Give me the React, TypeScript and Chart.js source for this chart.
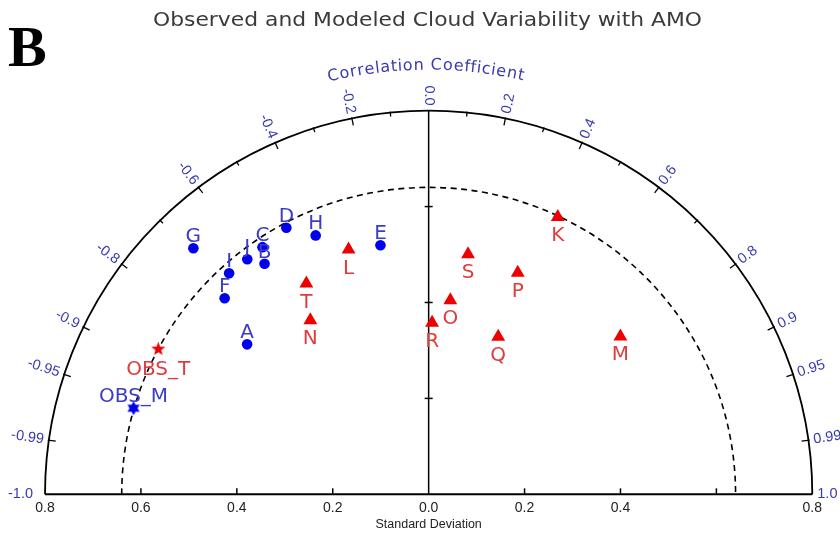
import React, { useEffect, useRef } from "react";
import { Chart, registerables } from "chart.js";

Chart.register(...registerables);

// ---------- data ----------
const TITLE = "Observed and Modeled Cloud Variability with AMO";
const PANEL = "B";
const STD_AXIS_TITLE = "Standard Deviation";
const CORR_AXIS_TITLE = "Correlation Coefficient";

// blue circles (models A–J)
const circleNames = ["A", "B", "C", "D", "E", "F", "G", "H", "I", "J"];
const circleStd = [0.491, 0.59, 0.621, 0.63, 0.529, 0.59, 0.71, 0.589, 0.621, 0.619];
const circleCorr = [-0.771, -0.58, -0.558, -0.471, -0.19, -0.721, -0.691, -0.4, -0.67, -0.611];

// red triangles (models K–T)
const triNames = ["K", "L", "M", "N", "O", "P", "Q", "R", "S", "T"];
const triStd = [0.638, 0.537, 0.518, 0.439, 0.407, 0.498, 0.359, 0.358, 0.507, 0.508];
const triCorr = [0.422, -0.311, 0.772, -0.562, 0.111, 0.373, 0.404, 0.02, 0.162, -0.502];

// observations
const obsTName = "OBS_T";
const obsTStd = [0.64];
const obsTCorr = [-0.881];
const obsMName = "OBS_M";
const obsMStd = [0.641];
const obsMCorr = [-0.96];

const refStd = 0.64;
const maxStd = 0.8;

// standard deviation axis (bottom)
const stdTickValues = [-0.8, -0.6, -0.4, -0.2, 0, 0.2, 0.4, 0.6, 0.8];
const stdTickLabels = ["0.8", "0.6", "0.4", "0.2", "0.0", "0.2", "0.4", "", "0.8"];
const stdInnerTicks = [0.2, 0.4, 0.6];

// correlation axis (arc)
const corrMajor = [-1, -0.99, -0.95, -0.9, -0.8, -0.6, -0.4, -0.2, 0, 0.2, 0.4, 0.6, 0.8, 0.9, 0.95, 0.99, 1];
const corrMajorLabels = ["-1.0", "-0.99", "-0.95", "-0.9", "-0.8", "-0.6", "-0.4", "-0.2", "0.0", "0.2", "0.4", "0.6", "0.8", "0.9", "0.95", "0.99", "1.0"];
const corrMinor = [-0.7, -0.5, -0.3, -0.1, 0.1, 0.3, 0.5, 0.7];

// ---------- styling ----------
const BLUE_MARK = "#0000ee";
const RED_MARK = "#ee0000";
const BLUE_TEXT = "#3c3cc4";
const RED_TEXT = "#e03c3c";
const AXIS_BLUE = "#3a3ab0";

function toXY(s: number, c: number) {
  return { x: s * c, y: s * Math.sqrt(Math.max(0, 1 - c * c)) };
}

function makeStar(points: number, outer: number, inner: number, color: string) {
  const size = Math.ceil(outer * 2 + 2);
  const cv = document.createElement("canvas");
  cv.width = size;
  cv.height = size;
  const g = cv.getContext("2d")!;
  const c = size / 2;
  g.fillStyle = color;
  g.beginPath();
  for (let i = 0; i < points * 2; i++) {
    const r = i % 2 === 0 ? outer : inner;
    const a = -Math.PI / 2 + (i * Math.PI) / points;
    const x = c + r * Math.cos(a);
    const y = c + r * Math.sin(a);
    if (i === 0) g.moveTo(x, y);
    else g.lineTo(x, y);
  }
  g.closePath();
  g.fill();
  return cv;
}

const taylorPlugin = {
  id: "taylor",
  beforeDatasetsDraw(chart: any) {
    const ctx = chart.ctx as CanvasRenderingContext2D;
    const xs = chart.scales.x;
    const ys = chart.scales.y;
    const ox = xs.getPixelForValue(0);
    const oy = ys.getPixelForValue(0);
    const R = xs.getPixelForValue(maxStd) - ox;
    const rRef = xs.getPixelForValue(refStd) - ox;
    ctx.save();

    // panel letter
    ctx.fillStyle = "#000";
    ctx.font = "bold 58px 'Liberation Serif'";
    ctx.textAlign = "left";
    ctx.textBaseline = "alphabetic";
    ctx.fillText(PANEL, 8, 66);

    // title
    ctx.font = "19px 'DejaVu Sans'";
    ctx.fillStyle = "#3a3a3a";
    const tw = ctx.measureText(TITLE).width;
    const target = 549;
    ctx.save();
    ctx.translate(427.5, 26);
    ctx.scale(target / tw, 1);
    ctx.textAlign = "center";
    ctx.fillText(TITLE, 0, 0);
    ctx.restore();

    // outer arc
    ctx.strokeStyle = "#000";
    ctx.lineWidth = 1.8;
    ctx.beginPath();
    ctx.arc(ox, oy, R, Math.PI, 2 * Math.PI, false);
    ctx.stroke();

    // baseline
    ctx.lineWidth = 2;
    ctx.beginPath();
    ctx.moveTo(ox - R, oy);
    ctx.lineTo(ox + R, oy);
    ctx.stroke();

    // vertical line
    ctx.lineWidth = 1.5;
    ctx.beginPath();
    ctx.moveTo(ox, oy);
    ctx.lineTo(ox, oy - R);
    ctx.stroke();

    // dashed reference arc
    ctx.save();
    ctx.setLineDash([6, 4.5]);
    ctx.lineWidth = 1.6;
    ctx.beginPath();
    ctx.arc(ox, oy, rRef, Math.PI, 2 * Math.PI, false);
    ctx.stroke();
    ctx.restore();

    // baseline ticks
    ctx.lineWidth = 1.5;
    for (const v of stdInnerTicks) {
      for (const s of [-1, 1]) {
        const x = xs.getPixelForValue(s * v);
        ctx.beginPath();
        ctx.moveTo(x, oy);
        ctx.lineTo(x, oy - 6);
        ctx.stroke();
      }
      const y = ys.getPixelForValue(v);
      ctx.beginPath();
      ctx.moveTo(ox - 4, y);
      ctx.lineTo(ox + 4, y);
      ctx.stroke();
    }

    // bottom labels
    ctx.fillStyle = "#222";
    ctx.font = "14px 'Liberation Sans'";
    ctx.textAlign = "center";
    ctx.textBaseline = "middle";
    stdTickValues.forEach((v, i) => {
      if (!stdTickLabels[i]) return;
      ctx.fillText(stdTickLabels[i], xs.getPixelForValue(v), oy + 14);
    });
    ctx.font = "12.5px 'Liberation Sans'";
    ctx.fillText(STD_AXIS_TITLE, ox, oy + 30);

    // correlation ticks
    ctx.strokeStyle = "#000";
    ctx.lineWidth = 1.3;
    const tick = (c: number, len: number) => {
      const th = Math.acos(c);
      const cx = Math.cos(th);
      const sy = Math.sin(th);
      ctx.beginPath();
      ctx.moveTo(ox + (R + 1) * cx, oy - (R + 1) * sy);
      ctx.lineTo(ox + (R - len) * cx, oy - (R - len) * sy);
      ctx.stroke();
    };
    corrMajor.forEach((c) => {
      if (Math.abs(c) === 1 || c === 0) return;
      tick(c, 7);
    });
    corrMinor.forEach((c) => tick(c, 4));

    // correlation labels
    ctx.fillStyle = AXIS_BLUE;
    ctx.font = "14.5px 'Liberation Sans'";
    ctx.textBaseline = "middle";
    corrMajor.forEach((c, i) => {
      const th = Math.acos(c);
      const off = c === -1 ? 12 : 5;
      const r = R + off;
      const x = ox + r * Math.cos(th);
      const y = oy - r * Math.sin(th);
      ctx.save();
      ctx.translate(x, y);
      if (th < Math.PI / 2 - 1e-6) {
        ctx.rotate(-th);
        ctx.textAlign = "left";
      } else {
        ctx.rotate(Math.PI - th);
        ctx.textAlign = "right";
      }
      ctx.fillText(corrMajorLabels[i], 0, 0);
      ctx.restore();
    });

    // curved axis title
    ctx.font = "16px 'DejaVu Sans'";
    ctx.fillStyle = AXIS_BLUE;
    ctx.textAlign = "center";
    ctx.textBaseline = "alphabetic";
    const rT = R + 41;
    const chars = CORR_AXIS_TITLE.split("");
    const widths = chars.map((ch) => ctx.measureText(ch).width);
    const total = widths.reduce((a, b) => a + b, 0);
    const arcLen = 197;
    const k = arcLen / total;
    const center = Math.PI / 2 + 0.007;
    let acc = 0;
    chars.forEach((ch, i) => {
      const mid = acc + widths[i] / 2;
      acc += widths[i];
      const a = center + (arcLen / 2 - mid * k) / rT;
      const x = ox + rT * Math.cos(a);
      const y = oy - rT * Math.sin(a);
      ctx.save();
      ctx.translate(x, y);
      ctx.rotate(Math.PI / 2 - a);
      ctx.fillText(ch, 0, 0);
      ctx.restore();
    });

    ctx.restore();
  },
  afterDatasetsDraw(chart: any) {
    const ctx = chart.ctx as CanvasRenderingContext2D;
    ctx.save();
    ctx.font = "20px 'DejaVu Sans'";
    ctx.textAlign = "center";
    ctx.textBaseline = "alphabetic";
    const drawLabels = (di: number, names: string[], dy: number, color: string) => {
      const meta = chart.getDatasetMeta(di);
      ctx.fillStyle = color;
      meta.data.forEach((el: any, i: number) => {
        ctx.fillText(names[i], el.x, el.y + dy);
      });
    };
    drawLabels(0, circleNames, -6, BLUE_TEXT);
    drawLabels(1, triNames, 24, RED_TEXT);
    drawLabels(2, [obsTName], 26, RED_TEXT);
    drawLabels(3, [obsMName], -6, BLUE_TEXT);
    ctx.restore();
  },
};

export default function App() {
  const ref = useRef<HTMLCanvasElement>(null);
  useEffect(() => {
    const canvas = ref.current!;
    const redStar = makeStar(5, 7.5, 3.0, RED_MARK);
    const blueStar = makeStar(6, 7, 4.0, BLUE_MARK);
    const chart = new Chart(canvas, {
      type: "scatter",
      data: {
        datasets: [
          {
            data: circleStd.map((s, i) => toXY(s, circleCorr[i])),
            pointStyle: "circle",
            pointRadius: 5.3,
            backgroundColor: BLUE_MARK,
            borderColor: BLUE_MARK,
            borderWidth: 0,
          },
          {
            data: triStd.map((s, i) => toXY(s, triCorr[i])),
            pointStyle: "triangle",
            pointRadius: 8,
            backgroundColor: RED_MARK,
            borderColor: RED_MARK,
            borderWidth: 0,
          },
          {
            data: obsTStd.map((s, i) => toXY(s, obsTCorr[i])),
            pointStyle: redStar as any,
            pointRadius: 7,
            backgroundColor: RED_MARK,
            borderColor: RED_MARK,
          },
          {
            data: obsMStd.map((s, i) => toXY(s, obsMCorr[i])),
            pointStyle: blueStar as any,
            pointRadius: 7,
            backgroundColor: BLUE_MARK,
            borderColor: BLUE_MARK,
          },
        ],
      },
      options: {
        responsive: false,
        devicePixelRatio: 1,
        animation: false,
        events: [],
        layout: { padding: { left: 45, right: 27.7, top: 110.65, bottom: 42.7 } },
        scales: {
          x: { type: "linear", min: -maxStd, max: maxStd, display: false },
          y: { type: "linear", min: 0, max: maxStd, display: false },
        },
        plugins: {
          legend: { display: false },
          tooltip: { enabled: false },
          title: { display: false },
        },
      },
      plugins: [taylorPlugin],
    });
    return () => chart.destroy();
  }, []);
  return (
    <div style={{ position: "fixed", left: 0, top: 0, width: 840, height: 537, background: "#fff" }}>
      <canvas ref={ref} width={840} height={537} style={{ display: "block", width: 840, height: 537 }} />
    </div>
  );
}
